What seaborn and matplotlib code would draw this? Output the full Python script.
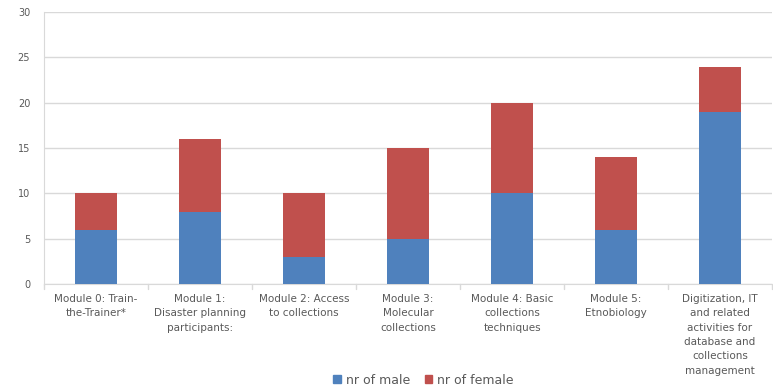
import pandas as pd
import seaborn as sns
import matplotlib.pyplot as plt
from matplotlib.patches import Patch

# Daten
modules = [
    "Module 0: Train-\nthe-Trainer*",
    "Module 1:\nDisaster planning\nparticipants:",
    "Module 2: Access\nto collections",
    "Module 3:\nMolecular\ncollections",
    "Module 4: Basic\ncollections\ntechniques",
    "Module 5:\nEtnobiology",
    "Digitization, IT\nand related\nactivities for\ndatabase and\ncollections\nmanagement",
]
nr_male = [6, 8, 3, 5, 10, 6, 19]
nr_female = [4, 8, 7, 10, 10, 8, 5]
y_ticks = [0, 5, 10, 15, 20, 25, 30]

blue = "#4F81BD"
red = "#C0504D"
text_col = "#595959"

df = pd.DataFrame({"module": modules, "male": nr_male, "female": nr_female})
df["total"] = df["male"] + df["female"]

sns.set_style("white")
plt.rcParams["font.family"] = ["DejaVu Sans"]

fig = plt.figure(figsize=(7.73, 3.92), dpi=100)
ax = fig.add_axes([0.057, 0.2755, 0.9417, 0.6935])

# gestapelt: erst Gesamt (rot), dann Männer (blau) darüber
sns.barplot(data=df, x="module", y="total", color=red, width=0.4,
            saturation=1, linewidth=0, ax=ax, zorder=3)
sns.barplot(data=df, x="module", y="male", color=blue, width=0.4,
            saturation=1, linewidth=0, ax=ax, zorder=4)

ax.set_ylim(0, 30)
ax.set_xlim(-0.5, len(modules) - 0.5)
ax.set_yticks(y_ticks)
ax.set_xlabel("")
ax.set_ylabel("")
ax.grid(axis="y", color="#D9D9D9", linewidth=1, zorder=0)
ax.set_axisbelow(True)

for s in ["top", "right"]:
    ax.spines[s].set_visible(False)
ax.spines["left"].set_color("#D9D9D9")
ax.spines["bottom"].set_color("#D9D9D9")

ax.tick_params(axis="y", labelsize=7, colors=text_col, length=0, pad=10)
ax.tick_params(axis="x", labelsize=7.5, colors=text_col, length=0, pad=7)
for lbl in ax.get_xticklabels():
    lbl.set_linespacing(1.55)

# kleine Teilstriche zwischen den Kategorien
for i in range(len(modules) + 1):
    ax.plot([i - 0.5, i - 0.5], [0, -0.5], color="#D9D9D9", lw=1,
            clip_on=False)

handles = [Patch(color=blue, label="nr of male"),
           Patch(color=red, label="nr of female")]
leg = fig.legend(handles=handles, loc="center", bbox_to_anchor=(0.548, 0.03),
                 ncol=2, frameon=False, fontsize=9, handlelength=0.6,
                 handleheight=0.6, columnspacing=1.2, handletextpad=0.4)
for t in leg.get_texts():
    t.set_color(text_col)

fig.savefig("out.png", dpi=100)
